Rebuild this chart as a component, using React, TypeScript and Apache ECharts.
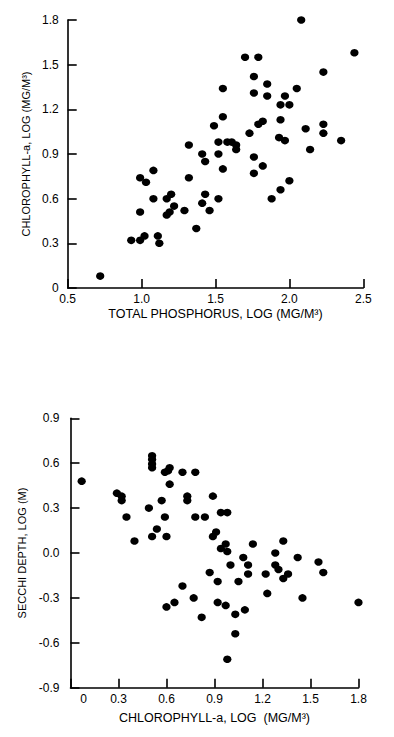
import React, { useEffect, useRef } from "react";
import * as echarts from "echarts";

// Top panel: total phosphorus (log) vs chlorophyll-a (log)
const tpLog = [0.72, 0.93, 0.99, 1.02, 0.99, 0.99, 1.03, 1.08, 1.08, 1.11, 1.12, 1.17, 1.20, 1.17, 1.19, 1.22, 1.29, 1.32, 1.32, 1.37, 1.41, 1.41, 1.43, 1.43, 1.46, 1.49, 1.52, 1.52, 1.52, 1.55, 1.55, 1.55, 1.58, 1.61, 1.64, 1.64, 1.70, 1.73, 1.76, 1.76, 1.76, 1.76, 1.79, 1.79, 1.82, 1.82, 1.85, 1.85, 1.88, 1.94, 1.94, 1.93, 1.97, 1.97, 2.00, 1.94, 2.00, 2.05, 2.08, 2.11, 2.14, 2.23, 2.23, 2.23, 2.35, 2.44];
const chlLogTop = [0.08, 0.32, 0.32, 0.35, 0.51, 0.74, 0.71, 0.79, 0.60, 0.35, 0.30, 0.60, 0.63, 0.49, 0.51, 0.55, 0.52, 0.74, 0.96, 0.40, 0.57, 0.90, 0.85, 0.63, 0.52, 1.09, 0.60, 0.90, 0.98, 0.80, 1.15, 1.34, 0.98, 0.98, 0.96, 0.93, 1.55, 1.04, 1.42, 1.31, 0.88, 0.77, 1.55, 1.10, 1.12, 0.82, 1.37, 1.29, 0.60, 1.23, 1.13, 1.01, 1.29, 0.99, 1.23, 0.66, 0.72, 1.34, 1.80, 1.07, 0.93, 1.45, 1.10, 1.04, 0.99, 1.58];

// Bottom panel: chlorophyll-a (log) vs Secchi depth (log)
const chlLogBottom = [0.07, 0.29, 0.32, 0.32, 0.35, 0.40, 0.49, 0.51, 0.51, 0.51, 0.51, 0.51, 0.54, 0.57, 0.59, 0.59, 0.60, 0.61, 0.62, 0.62, 0.70, 0.73, 0.73, 0.78, 0.78, 0.84, 0.89, 0.89, 0.91, 0.94, 0.98, 0.94, 0.97, 0.98, 1.00, 1.08, 1.11, 1.14, 1.11, 0.87, 0.92, 1.05, 0.70, 0.77, 0.65, 0.60, 0.82, 0.92, 0.97, 1.03, 1.09, 1.03, 0.98, 1.22, 1.23, 1.28, 1.28, 1.30, 1.33, 1.33, 1.36, 1.42, 1.45, 1.55, 1.58, 1.80];
const secchiLog = [0.48, 0.40, 0.38, 0.35, 0.24, 0.08, 0.30, 0.65, 0.625, 0.595, 0.57, 0.11, 0.16, 0.35, 0.54, 0.24, 0.11, 0.55, 0.57, 0.46, 0.54, 0.38, 0.35, 0.54, 0.24, 0.24, 0.38, 0.11, 0.14, 0.27, 0.27, 0.03, 0.06, 0.01, -0.08, -0.03, -0.08, 0.06, -0.14, -0.13, -0.19, -0.19, -0.22, -0.30, -0.33, -0.36, -0.43, -0.33, -0.35, -0.41, -0.38, -0.54, -0.71, -0.14, -0.27, 0.00, -0.08, -0.11, 0.08, -0.17, -0.14, -0.03, -0.30, -0.06, -0.13, -0.33];

const topXTitle = "TOTAL PHOSPHORUS, LOG (MG/M³)";
const topYTitle = "CHLOROPHYLL-a, LOG (MG/M³)";
const bottomXTitle = "CHLOROPHYLL-a, LOG  (MG/M³)";
const bottomYTitle = "SECCHI DEPTH, LOG (M)";

const FONT = "'Liberation Sans', Arial, Helvetica, sans-serif";
const INK = "#000";

const fmt1 = (v: number) => (Math.abs(v) < 1e-9 ? "0.0" : v.toFixed(1));

export default function App() {
  const ref = useRef<HTMLDivElement>(null);
  useEffect(() => {
    if (!ref.current) return;
    const chart = echarts.init(ref.current, undefined, { renderer: "svg" });
    const axisLine = { show: true, onZero: false, lineStyle: { color: INK, width: 1.6 } };
    const axisTick = { show: true, inside: true, length: 9, lineStyle: { color: INK, width: 1.6 } };
    const label = { color: INK, fontSize: 12, fontFamily: FONT };
    const xName = { color: INK, fontSize: 12.5, fontFamily: FONT };
    const yName = { color: INK, fontSize: 11, fontFamily: FONT };
    const topData = tpLog.map((x, i) => [x, chlLogTop[i]]);
    const bottomData = chlLogBottom.map((x, i) => [x, secchiLog[i]]);
    chart.setOption({
      animation: false,
      backgroundColor: "#fff",
      grid: [
        { left: 67.7, top: 20, width: 295.6, height: 268 },
        { left: 70.5, top: 418.3, width: 288, height: 269.4 },
      ],
      xAxis: [
        {
          gridIndex: 0, type: "value", min: 0.5, max: 2.5, interval: 0.5,
          axisLine, axisTick, splitLine: { show: false },
          axisLabel: { ...label, margin: 5, formatter: (v: number) => v.toFixed(1) },
          name: topXTitle, nameLocation: "middle", nameGap: 19.5, nameTextStyle: xName,
        },
        {
          gridIndex: 1, type: "value", min: 0, max: 1.8, interval: 0.3,
          axisLine, axisTick, splitLine: { show: false },
          axisLabel: {
            ...label, margin: 5,
            formatter: (v: number) => (Math.abs(v) < 1e-9 ? "{z|0}" : v.toFixed(1)),
            rich: { z: { ...label, padding: [0, 0, 0, 26] } },
          },
          name: bottomXTitle, nameLocation: "middle", nameGap: 24, nameTextStyle: xName,
        },
      ],
      yAxis: [
        {
          gridIndex: 0, type: "value", min: 0, max: 1.8, interval: 0.3,
          axisLine, axisTick, splitLine: { show: false },
          axisLabel: { ...label, margin: 9, formatter: (v: number) => (Math.abs(v) < 1e-9 ? "0" : v.toFixed(1)) },
          name: topYTitle, nameLocation: "middle", nameGap: 35, nameTextStyle: yName,
        },
        {
          gridIndex: 1, type: "value", min: -0.9, max: 0.9, interval: 0.3,
          axisLine, axisTick, splitLine: { show: false },
          axisLabel: { ...label, margin: 11, formatter: fmt1 },
          name: bottomYTitle, nameLocation: "middle", nameGap: 36, nameTextStyle: yName,
        },
      ],
      series: [
        {
          type: "scatter", xAxisIndex: 0, yAxisIndex: 0, data: topData,
          symbol: "circle", symbolSize: [8.3, 7.5], itemStyle: { color: "#000", opacity: 1 },
        },
        {
          type: "scatter", xAxisIndex: 1, yAxisIndex: 1, data: bottomData,
          symbol: "circle", symbolSize: [8.3, 7.5], itemStyle: { color: "#000", opacity: 1 },
        },
      ],
    });
    return () => chart.dispose();
  }, []);
  return (
    <div
      ref={ref}
      style={{ position: "absolute", left: 0, top: 0, width: 394, height: 737, background: "#fff" }}
    />
  );
}
